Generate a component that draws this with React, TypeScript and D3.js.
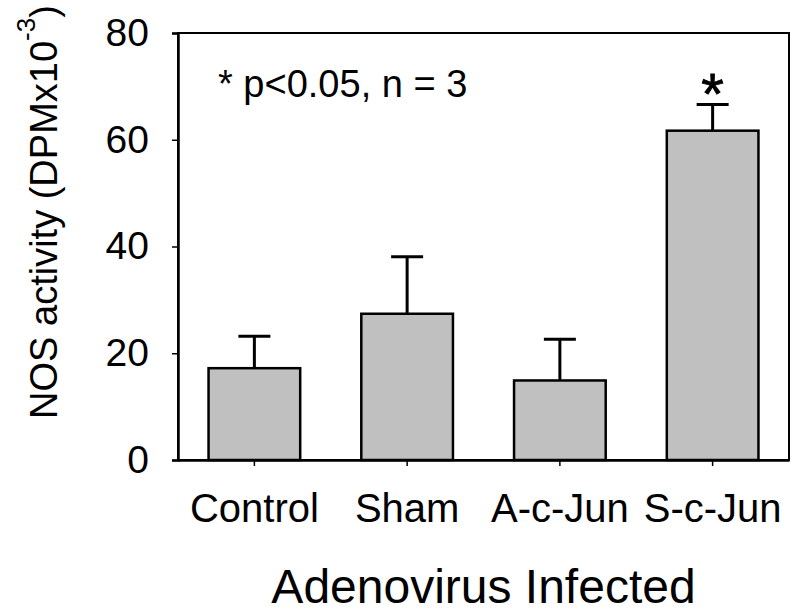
import React, { useRef, useEffect } from 'react';
import * as d3 from 'd3';

// values
const categories = ["Control", "Sham", "A-c-Jun", "S-c-Jun"];
const means = [17.2, 27.4, 14.9, 61.7];
const errors = [6.0, 10.7, 7.7, 4.9];
const significant = [false, false, false, true];
const yTicks = [0, 20, 40, 60, 80];

const FONT = "'Liberation Sans', Arial, Helvetica, sans-serif";

export default function App() {
  const svgRef = useRef<SVGSVGElement>(null);

  useEffect(() => {
    document.body.style.margin = "0";

    const width = 800;
    const height = 616;
    const marginTop = 33;
    const marginRight = 11;
    const marginBottom = 156;
    const marginLeft = 178;

    const data = categories.map((c, i) => ({
      name: c, mean: means[i], err: errors[i], sig: significant[i]
    }));

    const x = d3.scaleBand()
      .domain(categories)
      .range([marginLeft, width - marginRight])
      .paddingInner(0.4)
      .paddingOuter(0.2);

    const y = d3.scaleLinear()
      .domain([0, 80])
      .range([height - marginBottom, marginTop]);

    const svg = d3.select(svgRef.current)
      .attr("width", width)
      .attr("height", height)
      .attr("viewBox", [0, 0, width, height] as any)
      .style("display", "block")
      .style("background", "#fff");

    svg.selectAll("*").remove();

    // bars
    svg.append("g")
      .selectAll("rect")
      .data(data)
      .join("rect")
        .attr("x", d => x(d.name)!)
        .attr("y", d => y(d.mean))
        .attr("width", x.bandwidth())
        .attr("height", d => y(0) - y(d.mean))
        .attr("fill", "#c0c0c0")
        .attr("stroke", "#000")
        .attr("stroke-width", 2.5);

    // error bars (upper only)
    const eb = svg.append("g")
      .attr("stroke", "#000")
      .attr("stroke-width", 3)
      .selectAll("g")
      .data(data)
      .join("g")
        .attr("transform", d => `translate(${x(d.name)! + x.bandwidth() / 2},0)`);
    eb.append("line")
      .attr("y1", d => y(d.mean))
      .attr("y2", d => y(d.mean + d.err));
    eb.append("line")
      .attr("x1", -16)
      .attr("x2", 16)
      .attr("y1", d => y(d.mean + d.err))
      .attr("y2", d => y(d.mean + d.err));

    // significance asterisk
    svg.append("g")
      .selectAll("text")
      .data(data.filter(d => d.sig))
      .join("text")
        .attr("x", d => x(d.name)! + x.bandwidth() / 2)
        .attr("y", d => y(d.mean + d.err))
        .attr("dy", 9)
        .attr("text-anchor", "middle")
        .attr("font-family", FONT)
        .attr("font-size", 58)
        .attr("stroke", "#000")
        .attr("stroke-width", 0.8)
        .text("*");

    // frame
    svg.append("rect")
      .attr("x", marginLeft)
      .attr("y", marginTop)
      .attr("width", width - marginLeft - marginRight)
      .attr("height", height - marginTop - marginBottom)
      .attr("fill", "none")
      .attr("stroke", "#000")
      .attr("stroke-width", 2);

    // y axis
    svg.append("g")
      .attr("transform", `translate(${marginLeft},0)`)
      .call(d3.axisLeft(y).tickValues(yTicks).tickSize(6).tickPadding(23))
      .call(g => g.select(".domain").attr("stroke-width", 2.5))
      .call(g => g.selectAll(".tick line").attr("stroke-width", 1.5))
      .call(g => g.selectAll(".tick text")
        .attr("font-family", FONT)
        .attr("font-size", 39)
        .attr("fill", "#000"));

    // x axis
    svg.append("g")
      .attr("transform", `translate(0,${height - marginBottom})`)
      .call(d3.axisBottom(x).tickSize(6).tickPadding(28).tickSizeOuter(0))
      .call(g => g.select(".domain").attr("stroke-width", 2.5))
      .call(g => g.selectAll(".tick line").attr("stroke-width", 1.5))
      .call(g => g.selectAll(".tick text")
        .attr("font-family", FONT)
        .attr("font-size", 40)
        .attr("fill", "#000"));

    // annotation
    svg.append("text")
      .attr("x", 218)
      .attr("y", 97)
      .attr("font-family", FONT)
      .attr("font-size", 38)
      .text("* p<0.05, n = 3");

    // x axis title
    svg.append("text")
      .attr("x", (marginLeft + width - marginRight) / 2)
      .attr("y", 603)
      .attr("text-anchor", "middle")
      .attr("font-family", FONT)
      .attr("font-size", 48)
      .text("Adenovirus Infected");

    // y axis title
    const yt = svg.append("text")
      .attr("transform", "translate(57,212) rotate(-90)")
      .attr("text-anchor", "middle")
      .attr("font-family", FONT)
      .attr("font-size", 38);
    yt.append("tspan").text("NOS activity (DPMx10");
    yt.append("tspan").attr("font-size", 26).attr("dy", -22).text("-3");
    yt.append("tspan").attr("dy", 22).text(")");
  }, []);

  return (
    <div>
      <svg ref={svgRef}></svg>
    </div>
  );
}
